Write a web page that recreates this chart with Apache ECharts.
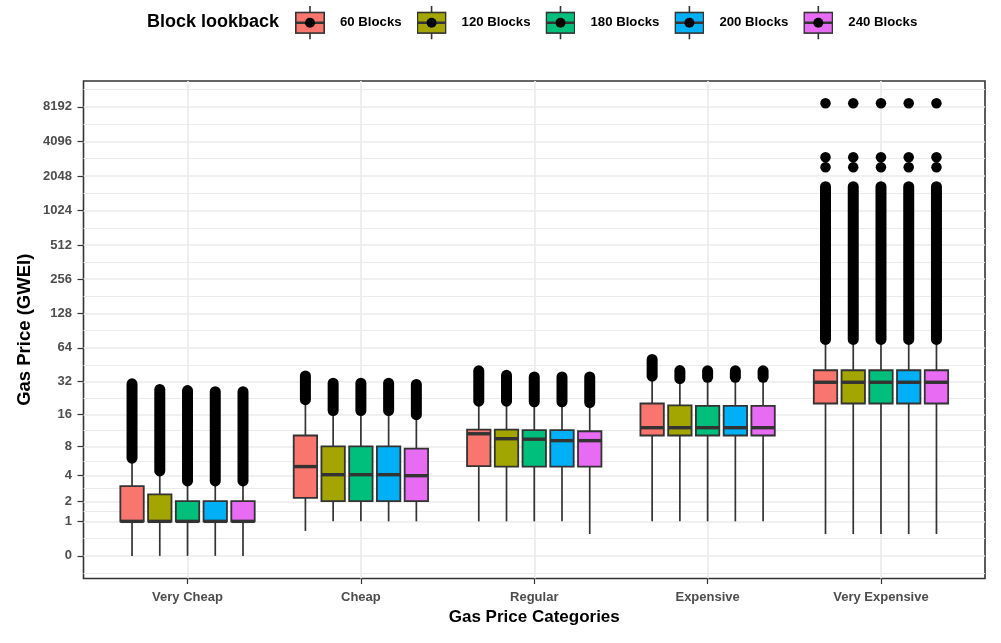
<!DOCTYPE html>
<html>
<head>
<meta charset="utf-8">
<title>Gas price by block lookback</title>
<script src="https://cdn.jsdelivr.net/npm/echarts@6/dist/echarts.min.js"></script>
<style>
  html, body { margin: 0; padding: 0; background: #fff; }
  #chart { width: 1001px; height: 643px; }
</style>
</head>
<body>
<div id="chart"></div>
<script>
// x categories and the lookback groups (dodged inside each category)
const categories = ['Very Cheap', 'Cheap', 'Regular', 'Expensive', 'Very Expensive'];
const groups = ['60 Blocks', '120 Blocks', '180 Blocks', '200 Blocks', '240 Blocks'];
const colors = ['#F8766D', '#A3A500', '#00BF7D', '#00B0F6', '#E76BF3'];
const yTicks = [0, 1, 2, 4, 8, 16, 32, 64, 128, 256, 512, 1024, 2048, 4096, 8192];

// box stats per category (GWEI): [low whisker, q1, median, q3, high whisker]
const box60 = [[0, 1, 1, 3.05, 5.8], [0.65, 2.2, 5.0, 10.2, 21], [1, 5.05, 10.6, 11.6, 20], [1, 10.2, 12.1, 20.3, 35], [0.55, 20.3, 31.6, 40.5, 74]];
const box120 = [[0, 1, 1, 2.44, 4.3], [1, 2, 4.1, 8, 17], [1, 5, 9.5, 11.6, 20.5], [1, 10.2, 12.1, 19.5, 33.5], [0.55, 20.3, 31.6, 40.5, 74]];
const box180 = [[0, 1, 1, 2, 3.4], [1, 2, 4.1, 8, 17], [1, 5, 9.4, 11.5, 20.5], [1, 10.2, 12.1, 19.3, 34.5], [0.55, 20.3, 31.6, 40.5, 74]];
const box200 = [[0, 1, 1, 2, 3.4], [1, 2, 4.1, 8, 17], [1, 5, 9.1, 11.5, 20.5], [1, 10.2, 12.1, 19.3, 34.5], [0.55, 20.3, 31.6, 40.5, 74]];
const box240 = [[0, 1, 1, 2, 3.4], [1, 2, 4, 7.6, 15.5], [0.55, 5, 9.1, 11.2, 20.2], [1, 10.2, 12.1, 19.3, 34.5], [0.55, 20.3, 31.6, 40.5, 74]];

// dense run of outliers per category: [lowest, highest]
const out60 = [[6.1, 30.6], [22, 36], [21.3, 40], [35.8, 50.5], [76, 1650]];
const out120 = [[4.5, 27.2], [17.5, 31], [21.3, 36.5], [34, 40.2], [76, 1650]];
const out180 = [[3.5, 26.6], [17.5, 31], [21, 35.3], [35, 40], [76, 1650]];
const out200 = [[3.5, 26], [17.5, 31], [21, 35.3], [35, 40], [76, 1650]];
const out240 = [[3.5, 26], [16, 30.2], [20.7, 35.3], [35, 40], [76, 1650]];

// isolated extreme outliers, Very Expensive (same for every group)
const farOutliers = [2440, 2980, 8800];

const boxes = [box60, box120, box180, box200, box240];
const outRuns = [out60, out120, out180, out200, out240];

// y scale is log2(x + 1)
const t = v => Math.log2(v + 1);

const DODGE = 0.16;   // spacing between groups, in category units
const BOX_W = 0.135;  // box width, in category units
const FONT = "'Liberation Sans', Arial, sans-serif";

function keyIcon(color) {
  const svg = '<svg xmlns="http://www.w3.org/2000/svg" width="30" height="34" viewBox="0 0 30 34">' +
    '<line x1="15" y1="0" x2="15" y2="34" stroke="#333" stroke-width="1.6"/>' +
    '<rect x="0.8" y="7" width="28.4" height="20.6" fill="' + color + '" stroke="#333" stroke-width="1.6"/>' +
    '<line x1="0.8" y1="17.3" x2="29.2" y2="17.3" stroke="#333" stroke-width="2.4"/>' +
    '<circle cx="15" cy="17.3" r="5" fill="#000"/></svg>';
  return 'image://data:image/svg+xml;charset=utf-8,' + encodeURIComponent(svg);
}

function renderBox(gi) {
  const off = (gi - 2) * DODGE;
  return function (params, api) {
    const x = api.value(0) + off;
    const lo = api.coord([x, api.value(1)]);
    const q1 = api.coord([x, api.value(2)]);
    const med = api.coord([x, api.value(3)]);
    const q3 = api.coord([x, api.value(4)]);
    const hi = api.coord([x, api.value(5)]);
    const oLo = api.coord([x, api.value(6)]);
    const oHi = api.coord([x, api.value(7)]);
    const halfW = api.size([BOX_W, 0])[0] / 2;
    const cx = lo[0];
    return {
      type: 'group',
      children: [
        { type: 'line', shape: { x1: cx, y1: lo[1], x2: cx, y2: hi[1] },
          style: { stroke: '#333', lineWidth: 1.7 } },
        { type: 'line', shape: { x1: cx, y1: oLo[1], x2: cx, y2: oHi[1] },
          style: { stroke: '#000', lineWidth: 11, lineCap: 'round' } },
        { type: 'rect', shape: { x: cx - halfW, y: q3[1], width: halfW * 2, height: q1[1] - q3[1] },
          style: { fill: colors[gi], stroke: '#333', lineWidth: 1.8 } },
        { type: 'line', shape: { x1: cx - halfW, y1: med[1], x2: cx + halfW, y2: med[1] },
          style: { stroke: '#333', lineWidth: 3.4 } }
      ]
    };
  };
}

// grid lines (ggplot style): majors at ticks, minors midway in transformed space
const tickT = yTicks.map(t);
const minorT = [tickT[0] - 0.5];
for (let i = 0; i + 1 < tickT.length; i++) minorT.push((tickT[i] + tickT[i + 1]) / 2);
minorT.push(tickT[tickT.length - 1] + 0.5);
const gridLines = []
  .concat(minorT.map(v => ({ yAxis: v, lineStyle: { width: 1.0 } })))
  .concat(tickT.map(v => ({ yAxis: v, lineStyle: { width: 1.7 } })))
  .concat(categories.map((c, i) => ({ xAxis: i + 1, lineStyle: { width: 1.7 } })));

const series = [{
  type: 'line', data: [], silent: true, z: 0,
  markLine: {
    silent: true, animation: false, z: 0,
    symbol: ['none', 'none'], label: { show: false },
    lineStyle: { color: '#EBEBEB', type: 'solid' },
    data: gridLines
  }
}];

groups.forEach((g, gi) => {
  series.push({
    type: 'custom', name: g, z: 3,
    itemStyle: { color: colors[gi] },
    data: categories.map((c, ci) => [ci + 1].concat(boxes[gi][ci].map(t), outRuns[gi][ci].map(t))),
    encode: { x: 0, y: [1, 2, 3, 4, 5, 6, 7] },
    renderItem: renderBox(gi)
  });
  series.push({
    type: 'scatter', name: g, z: 4,
    symbolSize: 10.5,
    itemStyle: { color: '#000', opacity: 1 },
    data: farOutliers.map(v => [categories.length + (gi - 2) * DODGE, t(v)])
  });
});

const chart = echarts.init(document.getElementById('chart'));
chart.setOption({
  animation: false,
  backgroundColor: '#fff',
  title: {
    text: 'Block lookback', left: 147, top: 13, padding: 0,
    textStyle: { fontSize: 18, fontWeight: 'bold', color: '#000', fontFamily: FONT }
  },
  legend: {
    left: 295, top: 5.5, padding: 0,
    itemWidth: 30, itemHeight: 34, itemGap: 15,
    selectedMode: false,
    textStyle: { fontSize: 13.2, fontWeight: 'bold', color: '#000', fontFamily: FONT, padding: [0, 0, 0, 10] },
    data: groups.map((g, i) => ({ name: g, icon: keyIcon(colors[i]) }))
  },
  grid: {
    left: 83.5, right: 16, top: 81, bottom: 64.5,
    show: true, borderColor: '#333', borderWidth: 1.6, backgroundColor: '#fff'
  },
  xAxis: {
    type: 'value', min: 0.4, max: 5.6,
    name: 'Gas Price Categories', nameLocation: 'middle', nameGap: 30, nameMoveOverlap: false,
    nameTextStyle: { fontSize: 17, fontWeight: 'bold', color: '#000', fontFamily: FONT },
    axisLine: { show: false, onZero: false },
    splitLine: { show: false },
    axisTick: { show: true, length: 5.5, customValues: [1, 2, 3, 4, 5], lineStyle: { color: '#333', width: 1.2 } },
    axisLabel: {
      customValues: [1, 2, 3, 4, 5], margin: 12.5,
      fontSize: 13, fontWeight: 'bold', color: '#4D4D4D', fontFamily: FONT,
      formatter: v => categories[Math.round(v) - 1]
    }
  },
  yAxis: {
    type: 'value', min: -0.655, max: 13.75,
    name: 'Gas Price (GWEI)', nameLocation: 'middle', nameGap: 49, nameMoveOverlap: false,
    nameTextStyle: { fontSize: 18.5, fontWeight: 'bold', color: '#000', fontFamily: FONT },
    axisLine: { show: false, onZero: false },
    splitLine: { show: false },
    axisTick: { show: true, length: 6, customValues: tickT, lineStyle: { color: '#333', width: 1.2 } },
    axisLabel: {
      customValues: tickT, margin: 11.5,
      fontSize: 13, fontWeight: 'bold', color: '#4D4D4D', fontFamily: FONT,
      formatter: v => String(Math.round(Math.pow(2, v) - 1))
    }
  },
  series: series
});
</script>
</body>
</html>
